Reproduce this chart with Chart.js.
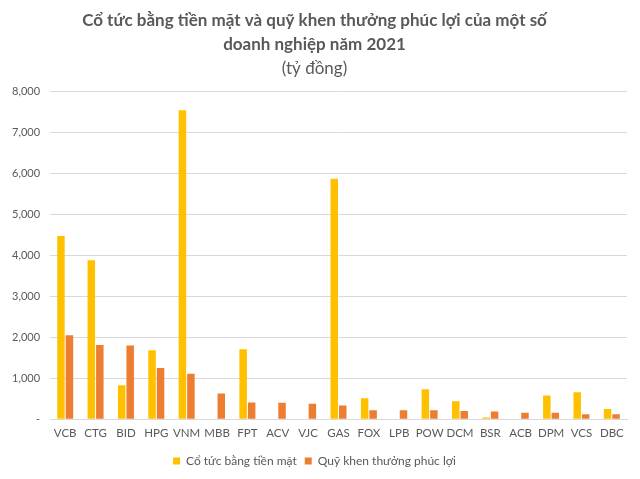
<!DOCTYPE html>
<html>
<head>
<meta charset="utf-8">
<script src="https://cdn.jsdelivr.net/npm/chart.js@4"></script>
<style>
  body { margin: 0; background: #fff; }
  #wrap { width: 640px; height: 479px; }
</style>
</head>
<body>
<div id="wrap"><canvas id="out"></canvas></div>
<script>
const companies = ["VCB", "CTG", "BID", "HPG", "VNM", "MBB", "FPT", "ACV", "VJC", "GAS",
    "FOX", "LPB", "POW", "DCM", "BSR", "ACB", "DPM", "VCS", "DBC"];
const cashDividend = [4470, 3880, 830, 1680, 7540, 10, 1710, 0, 0, 5870,
    510, 0, 730, 440, 40, 0, 580, 660, 250];
const welfareFund = [2050, 1810, 1800, 1250, 1110, 625, 410, 400, 380, 335,
    220, 220, 220, 200, 185, 155, 155, 122, 122];
const yTicks = [0, 1000, 2000, 3000, 4000, 5000, 6000, 7000, 8000];

const textGrey = "#595959";
const fontName = "Lato, 'Open Sans', sans-serif";

const canvasCtx = document.getElementById("out").getContext("2d");
const chartConfig = {
    type: "bar",
    data: {
        labels: companies,
        datasets: [{
                label: "Cổ tức bằng tiền mặt",
                backgroundColor: "#FFC000",
                data: cashDividend
            },
            {
                label: "Quỹ khen thưởng phúc lợi",
                backgroundColor: "#ED7D31",
                data: welfareFund
            }
        ]
    },
    options: {
        responsive: true,
        maintainAspectRatio: false,
        animation: false,
        categoryPercentage: 0.56,
        barPercentage: 0.88,
        layout: { padding: { left: 2, right: 13, top: 4, bottom: 2 } },
        plugins: {
            title: {
                display: true,
                text: ["Cổ tức bằng tiền mặt và quỹ khen thưởng phúc lợi của một số", "doanh nghiệp năm 2021"],
                color: textGrey,
                font: { family: fontName, size: 17, weight: "bold", lineHeight: 1.45 },
                padding: { top: 4, bottom: 0 }
            },
            subtitle: {
                display: true,
                text: "(tỷ đồng)",
                color: textGrey,
                font: { family: fontName, size: 17, lineHeight: 1.3 },
                padding: { top: 0, bottom: 12 }
            },
            legend: {
                position: "bottom",
                labels: {
                    color: textGrey,
                    font: { family: fontName, size: 12 },
                    boxWidth: 7,
                    boxHeight: 7,
                    padding: 8
                }
            },
            tooltip: { enabled: false }
        },
        scales: {
            x: {
                grid: { display: false, drawTicks: false },
                border: { color: "#d9d9d9" },
                ticks: { color: textGrey, font: { family: fontName, size: 11.5 }, padding: 7, maxRotation: 0, autoSkip: false }
            },
            y: {
                min: 0,
                max: 8000,
                afterBuildTicks: (axis) => { axis.ticks = yTicks.map(v => ({ value: v })); },
                grid: { color: "#d9d9d9", drawTicks: false },
                border: { display: false },
                ticks: {
                    color: textGrey,
                    font: { family: fontName, size: 11 },
                    padding: 10,
                    callback: (v) => v === 0 ? "-" : v.toLocaleString("en-US")
                }
            }
        }
    }
};

window.chart = new Chart(canvasCtx, chartConfig);
</script>
</body>
</html>
